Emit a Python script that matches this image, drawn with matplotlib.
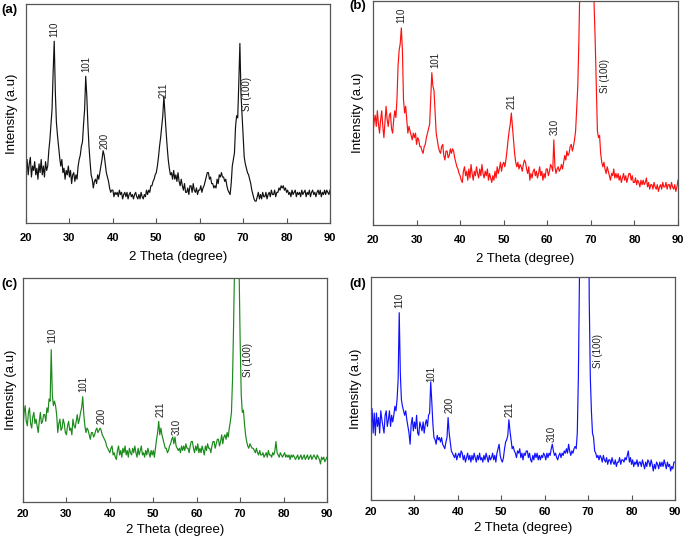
import numpy as np
import matplotlib
matplotlib.use("Agg")
import matplotlib.pyplot as plt

plt.rcParams['font.family'] = ['Liberation Sans', 'DejaVu Sans']

# 2-theta sampling (degrees), 0.25 deg steps from 20 to 90
two_theta = np.arange(20, 90.001, 0.25)

# Intensity (a.u., 0-100 = panel height), 4 values per degree
intensity_a = [
    25, 29, 22, 27,  30, 21, 26, 24,  28, 22, 25, 20,  27, 23, 29, 22,  26, 21, 28, 24,
    26, 33, 38, 45,  52, 69, 83, 60,  46, 40, 35, 30,  26, 29, 23, 25,  20, 24, 22, 26,
    21, 24, 18, 22,  23, 19, 22, 20,  26, 29, 31, 35,  37, 45, 52, 67,  58, 45, 35, 28,
    22, 20, 16, 19,  20, 18, 22, 20,  23, 26, 29, 33,  31, 27, 23, 21,  19, 16, 14, 15,
    15, 12, 14, 13,  14, 12, 15, 13,  14, 11, 13, 14,  12, 14, 11, 13,  14, 12, 13, 11,
    13, 14, 12, 11,  13, 11, 14, 12,  11, 13, 12, 15,  13, 15, 14, 17,  17, 19, 20, 22,
    23, 26, 30, 35,  39, 44, 49, 58,  50, 42, 35, 29,  25, 22, 23, 20,  24, 20, 22, 19,
    23, 19, 17, 20,  17, 15, 18, 14,  14, 16, 13, 17,  17, 14, 18, 15,  14, 16, 13, 15,
    15, 17, 14, 16,  17, 19, 21, 23,  23, 20, 21, 18,  18, 16, 17, 16,  20, 18, 22, 21,
    23, 21, 21, 19,  20, 17, 15, 14,  13, 18, 26, 29,  32, 44, 49, 48,  64, 82, 59, 49,
    40, 30, 27, 25,  23, 22, 20, 18,  15, 13, 11, 10,  10, 12, 14, 11,  13, 11, 14, 12,
    12, 14, 11, 13,  14, 12, 15, 13,  13, 15, 12, 14,  14, 16, 15, 17,  16, 17, 15, 16,
    14, 15, 13, 14,  12, 15, 13, 14,  15, 12, 14, 13,  14, 12, 15, 13,  14, 15, 12, 14,
    13, 15, 12, 14,  15, 13, 14, 12,  14, 15, 13, 15,  12, 14, 13, 15,  13, 15, 14, 13,
    15,
]

intensity_b = [
    41, 46, 49, 44,  51, 45, 41, 47,  51, 44, 39, 46,  53, 47, 44, 49,  50, 43, 41, 47,
    51, 48, 56, 71,  78, 81, 88, 78,  56, 50, 53, 47,  41, 44, 42, 40,  38, 41, 39, 41,
    36, 39, 38, 35,  35, 33, 32, 35,  36, 39, 41, 43,  45, 56, 68, 62,  60, 50, 41, 38,
    35, 33, 32, 35,  36, 31, 29, 33,  33, 30, 31, 34,  32, 34, 33, 30,  28, 26, 25, 23,
    22, 20, 19, 24,  26, 22, 24, 20,  25, 21, 27, 23,  20, 24, 22, 26,  23, 21, 25, 22,
    27, 23, 21, 24,  22, 25, 20, 23,  21, 19, 22, 20,  24, 21, 26, 23,  25, 28, 24, 27,
    28, 26, 29, 33,  38, 42, 45, 50,  44, 38, 32, 28,  26, 28, 25, 27,  26, 24, 27, 29,
    28, 25, 23, 26,  20, 23, 21, 24,  25, 22, 24, 21,  23, 26, 22, 24,  20, 23, 21, 25,
    25, 22, 24, 27,  26, 24, 38, 26,  23, 25, 26, 24,  25, 27, 25, 28,  31, 29, 33, 31,
    32, 35, 36, 33,  35, 38, 42, 52,  62, 82, 110, 170,  220, 260, 290, 300,  300, 290, 270, 240,
    200, 150, 140, 98,  82, 62, 42, 39,  40, 32, 28, 26,  28, 25, 23, 26,  24, 22, 20, 23,
    22, 25, 21, 23,  21, 23, 20, 22,  19, 21, 23, 20,  22, 19, 21, 23,  23, 20, 22, 19,
    19, 21, 18, 20,  19, 17, 20, 18,  20, 18, 19, 21,  17, 19, 16, 18,  18, 16, 19, 17,
    16, 18, 15, 17,  18, 16, 19, 17,  17, 19, 16, 18,  18, 16, 19, 17,  16, 18, 15, 17,
    20,
]

intensity_c = [
    33, 40, 43, 36,  34, 40, 42, 35,  33, 38, 40, 35,  37, 34, 31, 36,  40, 35, 36, 39,
    39, 36, 42, 40,  46, 45, 68, 48,  43, 45, 43, 39,  31, 35, 37, 32,  33, 37, 35, 31,
    30, 34, 36, 32,  33, 30, 37, 34,  33, 36, 39, 35,  37, 40, 42, 47,  39, 34, 31, 33,
    32, 30, 28, 31,  31, 29, 30, 32,  33, 31, 32, 33,  32, 30, 29, 28,  27, 25, 24, 23,
    22, 24, 25, 21,  22, 20, 19, 23,  25, 21, 23, 20,  24, 22, 25, 21,  23, 20, 24, 22,
    21, 24, 22, 25,  22, 20, 24, 21,  23, 25, 21, 22,  20, 23, 21, 24,  22, 20, 23, 21,
    23, 20, 24, 28,  31, 36, 30, 33,  30, 28, 26, 24,  24, 22, 23, 25,  26, 28, 29, 26,
    29, 25, 24, 23,  24, 22, 25, 23,  25, 23, 26, 24,  24, 22, 25, 27,  27, 24, 22, 25,
    23, 26, 22, 24,  22, 25, 23, 21,  25, 23, 26, 24,  24, 22, 25, 27,  27, 24, 26, 28,
    28, 25, 27, 30,  26, 29, 30, 28,  31, 29, 33, 36,  40, 55, 80, 110,  180, 220, 180, 105,
    72, 48, 40, 41,  35, 30, 27, 25,  24, 26, 25, 24,  24, 23, 22, 24,  22, 21, 23, 21,
    21, 22, 20, 21,  22, 20, 23, 21,  21, 20, 22, 21,  23, 27, 22, 21,  20, 22, 21, 20,
    21, 22, 20, 21,  20, 21, 19, 21,  20, 21, 20, 19,  20, 21, 19, 20,  21, 19, 20, 21,
    19, 20, 21, 19,  20, 21, 19, 20,  21, 20, 19, 21,  20, 19, 17, 20,  19, 20, 18, 19,
    20,
]

intensity_d = [
    32, 41, 30, 39,  29, 39, 33, 37,  30, 40, 36, 33,  30, 38, 40, 33,  36, 40, 33, 38,
    35, 38, 42, 40,  45, 54, 84, 57,  45, 42, 40, 38,  40, 36, 33, 30,  25, 34, 37, 31,
    35, 32, 38, 30,  29, 35, 33, 31,  35, 30, 34, 36,  33, 38, 39, 53,  44, 34, 28, 27,
    25, 29, 27, 28,  26, 28, 25, 24,  23, 26, 28, 37,  30, 26, 22, 21,  20, 19, 21, 18,
    20, 21, 19, 22,  21, 18, 20, 17,  19, 21, 18, 20,  17, 20, 18, 21,  19, 17, 20, 18,
    21, 18, 19, 17,  20, 18, 21, 19,  17, 20, 18, 19,  21, 18, 20, 17,  21, 23, 25, 20,
    18, 17, 19, 23,  26, 27, 29, 36,  31, 27, 23, 24,  22, 21, 19, 22,  21, 23, 19, 21,
    18, 21, 20, 22,  22, 19, 21, 18,  17, 20, 18, 21,  19, 21, 18, 20,  18, 20, 19, 21,
    20, 18, 21, 19,  21, 20, 23, 25,  22, 20, 21, 19,  18, 20, 21, 19,  21, 20, 22, 21,
    23, 21, 25, 22,  20, 22, 21, 23,  24, 23, 30, 55,  100, 180, 240, 280,  300, 300, 280, 240,
    180, 90, 55, 40,  30, 28, 22, 21,  19, 20, 18, 20,  19, 17, 20, 18,  17, 19, 16, 18,
    18, 16, 19, 17,  16, 18, 15, 17,  17, 19, 16, 18,  18, 17, 19, 18,  20, 22, 17, 19,
    16, 18, 15, 17,  16, 18, 15, 17,  17, 15, 18, 16,  14, 17, 15, 18,  17, 15, 18, 16,
    13, 16, 14, 17,  16, 14, 17, 15,  17, 15, 18, 16,  14, 17, 15, 16,  13, 15, 14, 17,
    17,
]

# Peak labels: (text, 2theta, intensity at text base)
peaks_a = [("110", 26.5, 85), ("101", 33.9, 69), ("200", 38.0, 34), ("211", 51.6, 57), ("Si (100)", 70.9, 51)]
peaks_b = [("110", 26.6, 90), ("101", 34.4, 70), ("211", 51.9, 52), ("310", 61.7, 40), ("Si (100)", 73.3, 59)]
peaks_c = [("110", 26.7, 71), ("101", 33.9, 49), ("200", 38.1, 35), ("211", 51.7, 38), ("310", 55.4, 30), ("Si (100)", 71.8, 56)]
peaks_d = [("110", 26.5, 86), ("101", 34.0, 53), ("200", 38.2, 39), ("211", 52.0, 37), ("310", 61.7, 26), ("Si (100)", 72.3, 59)]

panel_tags = ["(a)", "(b)", "(c)", "(d)"]
line_colors = ["#111111", "#ff1010", "#1a8a1a", "#1010ff"]
x_ticks = [20, 30, 40, 50, 60, 70, 80, 90]

W, H = 685, 542
fig = plt.figure(figsize=(W / 100, H / 100), dpi=100)

# axes boxes in pixels: left, top, right, bottom
boxes = [(26, 4, 330, 223), (373, 1, 678, 225), (23, 278, 327, 502), (371, 277, 675, 500)]
ylabel_px = [12, 358, 11, 356]          # x centre of the y label (pixels)
tag_px = [(1, 10), (349, 6), (1, 284), (349, 284)]
tick_pad = [7, 7, 5, 5]
label_pad = [6, 6, 4, 4]
series = [intensity_a, intensity_b, intensity_c, intensity_d]
labels = [peaks_a, peaks_b, peaks_c, peaks_d]

for i, ((l, t, r, b), y, col, pk, tag) in enumerate(zip(boxes, series, line_colors, labels, panel_tags)):
    ax = fig.add_axes([l / W, 1 - b / H, (r - l) / W, (b - t) / H])
    ax.plot(two_theta, y, color=col, lw=0.85)
    ax.set_xlim(20, 90)
    ax.set_ylim(0, 100)
    ax.set_xticks(x_ticks)
    ax.set_yticks([])
    ax.tick_params(axis='x', direction='in', length=3.5, width=0.8, color='#555555', pad=tick_pad[i])
    for lab in ax.get_xticklabels():
        lab.set_fontweight('bold')
        lab.set_fontsize(8)
    for s in ax.spines.values():
        s.set_color('#555555')
        s.set_linewidth(0.9)
    ax.set_xlabel("2 Theta (degree)", fontsize=9.5, labelpad=label_pad[i])
    ax.set_ylabel("Intensity (a.u)", fontsize=9.5, va='center')
    ax.yaxis.set_label_coords((ylabel_px[i] - l) / (r - l), 0.5)
    for txt, xx, yy in pk:
        ax.text(xx, yy, txt, rotation=90, ha='center', va='bottom', fontsize=7, color='#222222')
    tx, ty = tag_px[i]
    fig.text(tx / W, 1 - ty / H, tag, fontsize=9.5, fontweight='bold', va='center', ha='left')

fig.savefig("out.png", dpi=100)
